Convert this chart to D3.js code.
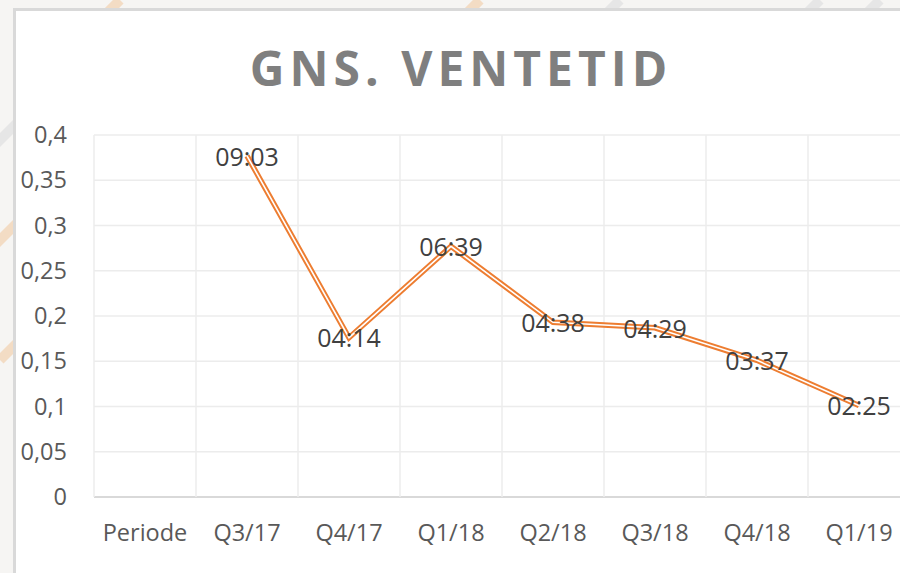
<!DOCTYPE html>
<html>
<head>
<meta charset="utf-8">
<script src="https://cdn.jsdelivr.net/npm/d3@7"></script>
<style>
  body { margin: 0; background: #f4f4f4; overflow: hidden; }
  svg { display: block; }
</style>
</head>
<body>
<div id="app"></div>
<script>
const categories = ['Periode', 'Q3/17', 'Q4/17', 'Q1/18', 'Q2/18', 'Q3/18', 'Q4/18', 'Q1/19']
const values = [null, 0.377, 0.176, 0.277, 0.193, 0.187, 0.151, 0.101]
const labels = ['', '09:03', '04:14', '06:39', '04:38', '04:29', '03:37', '02:25']
const yTicks = [0, 0.05, 0.1, 0.15, 0.2, 0.25, 0.3, 0.35, 0.4]

const width = 900
const height = 573
const plotLeft = 94
const plotTop = 135
const plotBottom = 497
const band = 102

const svg = d3.select('#app')
  .append('svg')
  .attr('width', width)
  .attr('height', height)

// faint decorative background outside the card
const deco = svg.append('g')
deco.append('rect').attr('width', width).attr('height', height).attr('fill', '#f6f5f3')
const stripes = [[-40, 120], [-20, 200], [0, 300], [30, 40], [60, 0], [420, 0], [560, 0], [760, 0], [820, 0]]
stripes.forEach(([sx, sy]) => {
  deco.append('line')
    .attr('x1', sx).attr('y1', sy + 60)
    .attr('x2', sx + 60).attr('y2', sy)
    .attr('stroke', (sx + sy) % 3 === 0 ? '#f3dcc4' : '#e6e6e6')
    .attr('stroke-width', 10)
})

// chart card
svg.append('rect')
  .attr('x', 14.5)
  .attr('y', 9.5)
  .attr('width', 900)
  .attr('height', 600)
  .attr('fill', '#ffffff')
  .attr('stroke', '#d9d9d9')
  .attr('stroke-width', 3)

svg.append('text')
  .attr('x', 461)
  .attr('y', 86)
  .attr('text-anchor', 'middle')
  .attr('font-family', 'Open Sans, sans-serif')
  .attr('font-weight', 'bold')
  .attr('font-size', 48)
  .attr('letter-spacing', 5)
  .attr('fill', '#7f7f7f')
  .text('GNS. VENTETID')

const x = d3.scaleBand()
  .domain(categories)
  .range([plotLeft, plotLeft + band * categories.length])

const y = d3.scaleLinear()
  .domain([0, 0.4])
  .range([plotBottom, plotTop])

// horizontal gridlines
svg.append('g')
  .selectAll('line')
  .data(yTicks)
  .enter()
  .append('line')
  .attr('x1', plotLeft)
  .attr('x2', width)
  .attr('y1', d => y(d))
  .attr('y2', d => y(d))
  .attr('stroke', d => d === 0 ? '#d9d9d9' : '#ececec')
  .attr('stroke-width', d => d === 0 ? 2 : 1.5)

// vertical gridlines
svg.append('g')
  .selectAll('line')
  .data(categories)
  .enter()
  .append('line')
  .attr('x1', d => x(d))
  .attr('x2', d => x(d))
  .attr('y1', plotTop)
  .attr('y2', plotBottom)
  .attr('stroke', '#ececec')
  .attr('stroke-width', 1.5)

const fmt = d => String(+d.toFixed(2)).replace('.', ',')

const axisY = d3.axisLeft(y).tickValues(yTicks).tickFormat(fmt).tickSize(0).tickPadding(27)
svg.append('g')
  .attr('transform', `translate(${plotLeft}, 0)`)
  .call(axisY)
  .call(g => g.select('.domain').remove())
  .selectAll('text')
  .attr('font-family', 'Open Sans, sans-serif')
  .attr('font-size', 23.5)
  .attr('fill', '#595959')

const axisX = d3.axisBottom(x).tickSize(0).tickPadding(27)
svg.append('g')
  .attr('transform', `translate(0, ${plotBottom})`)
  .call(axisX)
  .call(g => g.select('.domain').remove())
  .selectAll('text')
  .attr('font-family', 'Open Sans, sans-serif')
  .attr('font-size', 23.5)
  .attr('fill', '#595959')

const pts = categories.map((c, i) => ({ c, v: values[i], l: labels[i] })).filter(d => d.v !== null)

const line = d3.line()
  .x(d => x(d.c) + x.bandwidth() / 2)
  .y(d => y(d.v))

svg.append('path')
  .datum(pts)
  .attr('d', line)
  .attr('fill', 'none')
  .attr('stroke', '#ed7d31')
  .attr('stroke-width', 5.5)
  .attr('stroke-linejoin', 'miter')

svg.append('path')
  .datum(pts)
  .attr('d', line)
  .attr('fill', 'none')
  .attr('stroke', '#ffffff')
  .attr('stroke-width', 1.6)

svg.append('g')
  .selectAll('text')
  .data(pts)
  .enter()
  .append('text')
  .attr('x', d => x(d.c) + x.bandwidth() / 2)
  .attr('y', d => y(d.v) + 1)
  .attr('dy', '0.35em')
  .attr('text-anchor', 'middle')
  .attr('font-family', 'Open Sans, sans-serif')
  .attr('font-size', 25)
  .attr('fill', '#404040')
  .text(d => d.l)
</script>
</body>
</html>
